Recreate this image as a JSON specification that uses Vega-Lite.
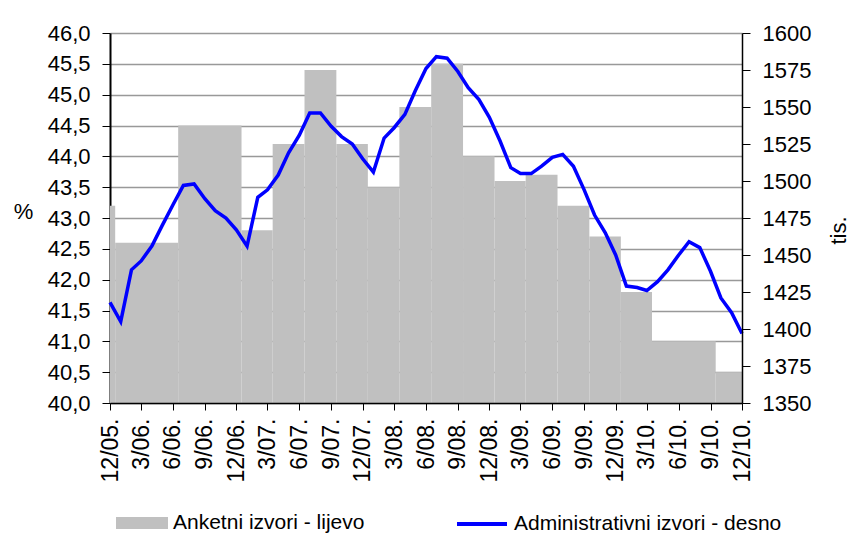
{
  "$schema": "https://vega.github.io/schema/vega-lite/v6.json",
  "width": 632,
  "height": 370,
  "autosize": {"type": "none"},
  "padding": {"left": 110, "top": 33, "right": 108, "bottom": 137},
  "background": "white",
  "config": {
    "font": "Liberation Sans",
    "view": {"stroke": null},
    "axis": {
      "labelFont": "Liberation Sans",
      "titleFont": "Liberation Sans",
      "labelFontSize": 22,
      "titleFontSize": 22,
      "titleFontWeight": "normal",
      "labelColor": "#000",
      "titleColor": "#000",
      "domainColor": "#000",
      "tickColor": "#000",
      "labelFlush": false,
      "labelOverlap": false
    },
    "legend": {
      "labelFont": "Liberation Sans",
      "labelFontSize": 21,
      "labelColor": "#000",
      "labelLimit": 0
    }
  },
  "datasets": {
    "survey": [
      {"date": "2005-12-01", "end": "2005-12-16", "share": 43.2},
      {"date": "2005-12-16", "end": "2006-06-16", "share": 42.6},
      {"date": "2006-06-16", "end": "2006-12-16", "share": 44.5},
      {"date": "2006-12-16", "end": "2007-03-16", "share": 42.8},
      {"date": "2007-03-16", "end": "2007-06-16", "share": 44.2},
      {"date": "2007-06-16", "end": "2007-09-16", "share": 45.4},
      {"date": "2007-09-16", "end": "2007-12-16", "share": 44.2},
      {"date": "2007-12-16", "end": "2008-03-16", "share": 43.5},
      {"date": "2008-03-16", "end": "2008-06-16", "share": 44.8},
      {"date": "2008-06-16", "end": "2008-09-16", "share": 45.5},
      {"date": "2008-09-16", "end": "2008-12-16", "share": 44.0},
      {"date": "2008-12-16", "end": "2009-03-16", "share": 43.6},
      {"date": "2009-03-16", "end": "2009-06-16", "share": 43.7},
      {"date": "2009-06-16", "end": "2009-09-16", "share": 43.2},
      {"date": "2009-09-16", "end": "2009-12-16", "share": 42.7},
      {"date": "2009-12-16", "end": "2010-03-16", "share": 41.8},
      {"date": "2010-03-16", "end": "2010-09-16", "share": 41.0},
      {"date": "2010-09-16", "end": "2010-12-01", "share": 40.5}
    ],
    "admin": [
      {"date": "2005-12-01", "tis": 1418},
      {"date": "2006-01-01", "tis": 1405},
      {"date": "2006-02-01", "tis": 1440},
      {"date": "2006-03-01", "tis": 1446},
      {"date": "2006-04-01", "tis": 1456},
      {"date": "2006-05-01", "tis": 1470},
      {"date": "2006-06-01", "tis": 1484},
      {"date": "2006-07-01", "tis": 1497},
      {"date": "2006-08-01", "tis": 1498},
      {"date": "2006-09-01", "tis": 1488},
      {"date": "2006-10-01", "tis": 1480},
      {"date": "2006-11-01", "tis": 1475},
      {"date": "2006-12-01", "tis": 1467},
      {"date": "2007-01-01", "tis": 1456},
      {"date": "2007-02-01", "tis": 1489},
      {"date": "2007-03-01", "tis": 1494},
      {"date": "2007-04-01", "tis": 1504},
      {"date": "2007-05-01", "tis": 1519},
      {"date": "2007-06-01", "tis": 1531},
      {"date": "2007-07-01", "tis": 1546},
      {"date": "2007-08-01", "tis": 1546},
      {"date": "2007-09-01", "tis": 1537},
      {"date": "2007-10-01", "tis": 1530},
      {"date": "2007-11-01", "tis": 1525},
      {"date": "2007-12-01", "tis": 1515},
      {"date": "2008-01-01", "tis": 1506},
      {"date": "2008-02-01", "tis": 1529},
      {"date": "2008-03-01", "tis": 1536},
      {"date": "2008-04-01", "tis": 1545},
      {"date": "2008-05-01", "tis": 1561},
      {"date": "2008-06-01", "tis": 1576},
      {"date": "2008-07-01", "tis": 1584},
      {"date": "2008-08-01", "tis": 1583},
      {"date": "2008-09-01", "tis": 1574},
      {"date": "2008-10-01", "tis": 1563},
      {"date": "2008-11-01", "tis": 1555},
      {"date": "2008-12-01", "tis": 1543},
      {"date": "2009-01-01", "tis": 1527},
      {"date": "2009-02-01", "tis": 1509},
      {"date": "2009-03-01", "tis": 1505},
      {"date": "2009-04-01", "tis": 1505},
      {"date": "2009-05-01", "tis": 1510},
      {"date": "2009-06-01", "tis": 1516},
      {"date": "2009-07-01", "tis": 1518},
      {"date": "2009-08-01", "tis": 1510},
      {"date": "2009-09-01", "tis": 1494},
      {"date": "2009-10-01", "tis": 1477},
      {"date": "2009-11-01", "tis": 1465},
      {"date": "2009-12-01", "tis": 1450},
      {"date": "2010-01-01", "tis": 1429},
      {"date": "2010-02-01", "tis": 1428},
      {"date": "2010-03-01", "tis": 1426},
      {"date": "2010-04-01", "tis": 1432},
      {"date": "2010-05-01", "tis": 1440},
      {"date": "2010-06-01", "tis": 1450},
      {"date": "2010-07-01", "tis": 1459},
      {"date": "2010-08-01", "tis": 1455},
      {"date": "2010-09-01", "tis": 1439},
      {"date": "2010-10-01", "tis": 1421},
      {"date": "2010-11-01", "tis": 1411},
      {"date": "2010-12-01", "tis": 1397}
    ]
  },
  "encoding": {
    "x": {
      "field": "date",
      "type": "temporal",
      "scale": {
        "type": "utc",
        "domain": [1133395200000, 1291161600000]
      },
      "axis": {
        "title": null,
        "labelExpr": "utcFormat(datum.value, '%-m/%y.')",
        "labelAngle": -90,
        "labelAlign": "right",
        "labelBaseline": "middle",
        "labelFontSize": 23,
        "labelOverlap": false,
        "labelSeparation": 0,
        "tickSize": 7,
        "labelPadding": 8,
        "grid": false,
        "zindex": 1,
        "domainWidth": 1.5,
        "values": [
          1133395200000, 1141171200000, 1149120000000, 1157068800000,
          1164931200000, 1172707200000, 1180656000000, 1188604800000,
          1196467200000, 1204329600000, 1212278400000, 1220227200000,
          1228089600000, 1235865600000, 1243814400000, 1251763200000,
          1259625600000, 1267401600000, 1275350400000, 1283299200000,
          1291161600000
        ]
      }
    }
  },
  "layer": [
    {
      "data": {"name": "survey"},
      "mark": {"type": "rect", "strokeWidth": 0},
      "encoding": {
        "x2": {"field": "end"},
        "y": {
          "field": "share",
          "type": "quantitative",
          "scale": {"domain": [40, 46], "nice": false, "zero": false},
          "axis": {
            "title": "%",
            "titleAngle": 0,
            "titleX": -87,
            "titleY": 178,
            "titleAlign": "center",
            "titleBaseline": "middle",
            "values": [40, 40.5, 41, 41.5, 42, 42.5, 43, 43.5, 44, 44.5, 45, 45.5, 46],
            "labelExpr": "replace(format(datum.value, '.1f'), '.', ',')",
            "tickSize": 8,
            "labelPadding": 12,
            "grid": true,
            "gridColor": "#999999",
            "gridWidth": 1.5,
            "domainWidth": 2,
            "zindex": 0
          }
        },
        "y2": {"datum": 40},
        "fill": {
          "datum": "Anketni izvori - lijevo",
          "type": "nominal",
          "scale": {"range": ["#c0c0c0"]},
          "legend": {
            "title": null,
            "orient": "none",
            "legendX": 6,
            "legendY": 464,
            "padding": 0,
            "symbolType": "M-1,-0.23L1,-0.23L1,0.23L-1,0.23Z",
            "symbolSize": 2704,
            "symbolStrokeWidth": 0,
            "labelOffset": 5,
            "labelLimit": 0
          }
        }
      }
    },
    {
      "data": {"name": "admin"},
      "mark": {"type": "line", "strokeWidth": 3.5, "strokeJoin": "miter"},
      "encoding": {
        "y": {
          "field": "tis",
          "type": "quantitative",
          "scale": {"domain": [1350, 1600], "nice": false, "zero": false},
          "axis": {
            "orient": "right",
            "title": "tis.",
            "titleAngle": -90,
            "titleX": 96,
            "titleY": 197,
            "titleAlign": "center",
            "titleBaseline": "middle",
            "values": [1350, 1375, 1400, 1425, 1450, 1475, 1500, 1525, 1550, 1575, 1600],
            "format": "d",
            "tickSize": 8,
            "labelPadding": 12,
            "grid": false,
            "domainWidth": 1.5,
            "zindex": 1
          }
        },
        "stroke": {
          "datum": "Administrativni izvori - desno",
          "type": "nominal",
          "scale": {"range": ["#0000ff"]},
          "legend": {
            "title": null,
            "orient": "none",
            "legendX": 345,
            "legendY": 464,
            "padding": 0,
            "symbolType": "stroke",
            "symbolSize": 2500,
            "symbolStrokeWidth": 4,
            "labelOffset": 5,
            "labelLimit": 0
          }
        }
      }
    }
  ],
  "resolve": {"scale": {"y": "independent"}, "axis": {"y": "independent"}}
}
